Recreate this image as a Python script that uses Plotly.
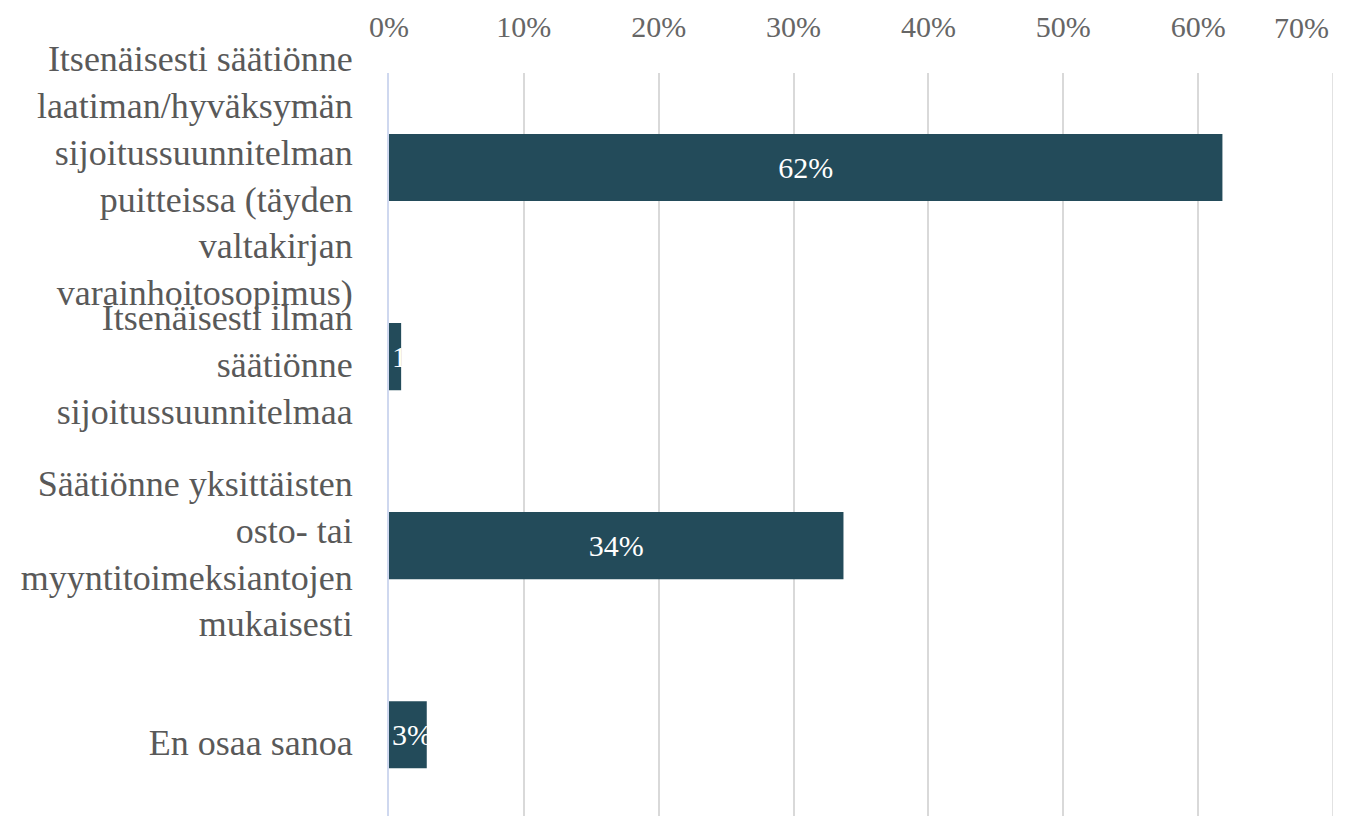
import plotly.graph_objects as go

categories = [
    "Itsenäisesti säätiönne<br>laatiman/hyväksymän<br>sijoitussuunnitelman<br>puitteissa (täyden<br>valtakirjan<br>varainhoitosopimus)",
    "Itsenäisesti ilman<br>säätiönne<br>sijoitussuunnitelmaa",
    "Säätiönne yksittäisten<br>osto- tai<br>myyntitoimeksiantojen<br>mukaisesti",
    "En osaa sanoa",
]
values = [61.8, 0.9, 33.7, 2.8]
value_labels = ["62%", "1%", "34%", "3%"]
tick_vals = [0, 10, 20, 30, 40, 50, 60]
tick_text = ["0%", "10%", "20%", "30%", "40%", "50%", "60%"]
last_tick_val = 70
last_tick_text = "70%"

SERIF = "Liberation Serif, Times New Roman, serif"
BAR = "#234b5a"
GREY = "#595959"

fig = go.Figure()
# wide bars: label centred; narrow bars: label starts at the bar's base (clipped look)
for wide in (True, False):
    idx = [i for i, v in enumerate(values) if (v >= 10) == wide]
    fig.add_trace(
        go.Bar(
            x=[values[i] for i in idx],
            y=[categories[i] for i in idx],
            orientation="h",
            marker=dict(color=BAR, line=dict(width=0)),
            text=[value_labels[i] for i in idx],
            textposition="inside",
            insidetextanchor="middle" if wide else "start",
            textangle=0,
            constraintext="none",
            textfont=dict(family=SERIF, size=30, color="white"),
            hoverinfo="skip",
        )
    )

fig.update_layout(
    width=1330,
    height=808,
    margin=dict(l=381, r=5, t=65, b=0),
    paper_bgcolor="white",
    plot_bgcolor="white",
    bargap=0.645,
    barmode="overlay",
    showlegend=False,
    font=dict(family=SERIF, color=GREY),
)

fig.update_xaxes(
    side="top",
    range=[0, 70],
    tickvals=tick_vals,
    ticktext=tick_text,
    tickfont=dict(family=SERIF, size=30, color="#666666"),
    showgrid=True,
    gridcolor="#d9d9d9",
    gridwidth=1.5,
    zeroline=False,
    showline=False,
    ticks="",
    ticklabelstandoff=29,
    automargin=False,
)
# 70% gridline and its label, kept inside the page like the original
fig.add_shape(type="line", x0=last_tick_val, x1=last_tick_val, y0=0, y1=1,
              xref="x", yref="paper", line=dict(color="#d9d9d9", width=1.5), layer="below")
fig.add_annotation(
    x=last_tick_val, y=1, xref="x", yref="paper",
    text=last_tick_text, showarrow=False,
    xanchor="right", yanchor="bottom", xshift=-2, yshift=27,
    font=dict(family=SERIF, size=30, color="#666666"),
)

fig.update_yaxes(
    type="category",
    categoryorder="array",
    categoryarray=categories,
    range=[3.43, -0.5],
    tickfont=dict(family=SERIF, size=36, color=GREY),
    showline=True,
    linecolor="#cfd8ef",
    linewidth=2,
    showgrid=False,
    ticks="",
    ticklabelstandoff=27,
    ticklabelshift=-8,
    automargin=False,
)

fig.write_html("out.html")
